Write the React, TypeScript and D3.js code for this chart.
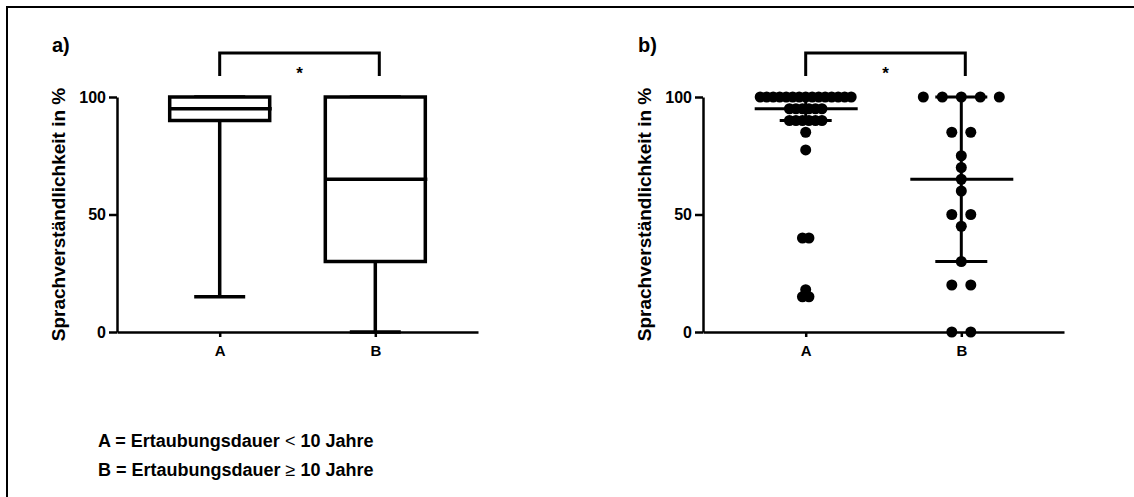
import React, { useRef, useEffect } from "react";
import * as d3 from "d3";

// Sprachverständlichkeit je Gruppe
const groups = ["A", "B"];
const valuesA = [
  100, 100, 100, 100, 100, 100, 100, 100, 100, 100, 100, 100, 100, 100, 100,
  95, 95, 95, 95, 95, 95,
  90, 90, 90, 90, 90, 90,
  85, 77.5, 40, 40, 18, 15, 15,
];
const valuesB = [100, 100, 100, 100, 100, 85, 85, 75, 70, 65, 60, 50, 50, 45, 30, 20, 20, 0, 0];
const yTicks = [0, 50, 100];
const panelLabels = ["a)", "b)"];
const yTitle = "Sprachverständlichkeit in %";
const legendRows = [
  ["A = Ertaubungsdauer ", "<", " 10 Jahre"],
  ["B = Ertaubungsdauer ", "≥", " 10 Jahre"],
];

const FONT = "'Liberation Sans', Arial, sans-serif";

// Quartile wie GraphPad: Position (n+1)p, linear interpoliert
const quart = (vals: number[], p: number) => {
  const s = [...vals].sort((a, b) => a - b);
  const pos = (s.length + 1) * p - 1;
  const lo = Math.max(0, Math.floor(pos));
  const hi = Math.min(s.length - 1, lo + 1);
  return s[lo] + (s[hi] - s[lo]) * (pos - lo);
};

const stats = (vals: number[]) => ({
  min: d3.min(vals) as number,
  max: d3.max(vals) as number,
  q1: quart(vals, 0.25),
  med: quart(vals, 0.5),
  q3: quart(vals, 0.75),
});

const App = () => {
  const ref = useRef<SVGSVGElement>(null);
  const width = 1134,
    height = 497;

  useEffect(() => {
    const svg = d3.select(ref.current);
    svg.selectChildren().remove();

    const data = [valuesA, valuesB];
    const st = data.map(stats);

    // Rahmen (oben und links)
    svg
      .append("path")
      .attr("d", `M7,${height} V7 H${width}`)
      .attr("fill", "none")
      .attr("stroke", "#000")
      .attr("stroke-width", 2);

    const panels = [
      { x0: 117, x1: 478, kind: "box" },
      { x0: 703, x1: 1064, kind: "dots" },
    ];

    panels.forEach((p, pi) => {
      const y = d3.scaleLinear().domain([0, 100]).range([332, 97]);
      const x = d3.scalePoint().domain(groups).range([p.x0, p.x1]).padding(0.66);
      const g = svg.append("g").style("font-family", FONT).style("font-weight", "bold");

      // Panel-Buchstabe
      g.append("text")
        .attr("x", p.x0 - 65)
        .attr("y", 52)
        .style("font-size", "20px")
        .text(panelLabels[pi]);

      // Y axis
      const ya = g
        .append("g")
        .attr("transform", `translate(${p.x0},0)`)
        .call(d3.axisLeft(y).tickValues(yTicks).tickSize(8).tickSizeOuter(0).tickPadding(3));
      ya.select(".domain").attr("stroke-width", 2.5);
      ya.selectAll(".tick line").attr("stroke-width", 2.5);
      ya.selectAll("text").style("font-size", "16px").style("font-family", FONT).style("font-weight", "bold");

      // X axis
      const xa = g
        .append("g")
        .attr("transform", `translate(0,${y(0)})`)
        .call(d3.axisBottom(x).tickSize(5).tickSizeOuter(0).tickPadding(8));
      xa.select(".domain").attr("stroke-width", 2.5);
      xa.selectAll(".tick line").attr("stroke-width", 2.5);
      xa.selectAll("text").style("font-size", "15px").style("font-family", FONT).style("font-weight", "bold");

      // Achsentitel (gedreht)
      g.append("text")
        .attr("transform", `translate(${p.x0 - 52},${(y(0) + y(100)) / 2}) rotate(-90)`)
        .attr("text-anchor", "middle")
        .style("font-size", "19px")
        .text(yTitle);

      // Signifikanz-Klammer
      const bx0 = x("A") as number,
        bx1 = (x("B") as number) + 4;
      g.append("path")
        .attr("d", `M${bx0},76 V53 H${bx1} V76`)
        .attr("fill", "none")
        .attr("stroke", "#000")
        .attr("stroke-width", 3);
      g.append("text")
        .attr("x", (bx0 + bx1) / 2)
        .attr("y", 79)
        .attr("text-anchor", "middle")
        .style("font-size", "17px")
        .text("*");

      if (p.kind === "box") {
        const bw = 100,
          cw = 51;
        groups.forEach((k, i) => {
          const s = st[i];
          const cx = x(k) as number;
          const ln = (x1: number, y1: number, x2: number, y2: number) =>
            g.append("line")
              .attr("x1", x1).attr("y1", y1).attr("x2", x2).attr("y2", y2)
              .attr("stroke", "#000").attr("stroke-width", 3.5);
          // Whisker
          ln(cx, y(s.q1), cx, y(s.min));
          ln(cx - cw / 2, y(s.min), cx + cw / 2, y(s.min));
          ln(cx, y(s.q3), cx, y(s.max));
          ln(cx - cw / 2, y(s.max), cx + cw / 2, y(s.max));
          // Box
          g.append("rect")
            .attr("x", cx - bw / 2)
            .attr("y", y(s.q3))
            .attr("width", bw)
            .attr("height", y(s.q1) - y(s.q3))
            .attr("fill", "#fff")
            .attr("stroke", "#000")
            .attr("stroke-width", 3.5);
          ln(cx - bw / 2, y(s.med), cx + bw / 2 + 2, y(s.med));
        });
      } else {
        const spacing = [6.5, 19];
        const r = 5.5;
        groups.forEach((k, i) => {
          const cx = x(k) as number;
          const rows = d3.group(data[i], (v) => v);
          const pts: { v: number; dx: number }[] = [];
          rows.forEach((vals, v) => {
            vals.forEach((_, j) => pts.push({ v, dx: (j - (vals.length - 1) / 2) * spacing[i] }));
          });
          g.append("g")
            .selectAll("circle")
            .data(pts)
            .enter()
            .append("circle")
            .attr("cx", (d) => cx + d.dx)
            .attr("cy", (d) => y(d.v))
            .attr("r", r)
            .attr("fill", "#000");

          const s = st[i];
          const ln = (x1: number, y1: number, x2: number, y2: number) =>
            g.append("line")
              .attr("x1", x1).attr("y1", y1).attr("x2", x2).attr("y2", y2)
              .attr("stroke", "#000").attr("stroke-width", 3);
          ln(cx, y(s.q1), cx, y(s.q3));
          ln(cx - 26, y(s.q1), cx + 26, y(s.q1));
          ln(cx - 26, y(s.q3), cx + 26, y(s.q3));
          ln(cx - 51, y(s.med), cx + 52, y(s.med));
        });
      }
    });

    // Legende
    const leg = svg
      .append("g")
      .style("font-family", FONT)
      .style("font-weight", "bold")
      .style("font-size", "18px");
    legendRows.forEach((row, i) => {
      const t = leg.append("text").attr("x", 98).attr("y", 447 + i * 29);
      t.append("tspan").text(row[0]);
      t.append("tspan").style("font-weight", "normal").text(row[1]);
      t.append("tspan").text(row[2]);
    });
  }, []);

  return (
    <svg
      ref={ref}
      width={width}
      height={height}
      style={{ position: "absolute", left: 0, top: 0, background: "#fff" }}
    />
  );
};

export default App;
